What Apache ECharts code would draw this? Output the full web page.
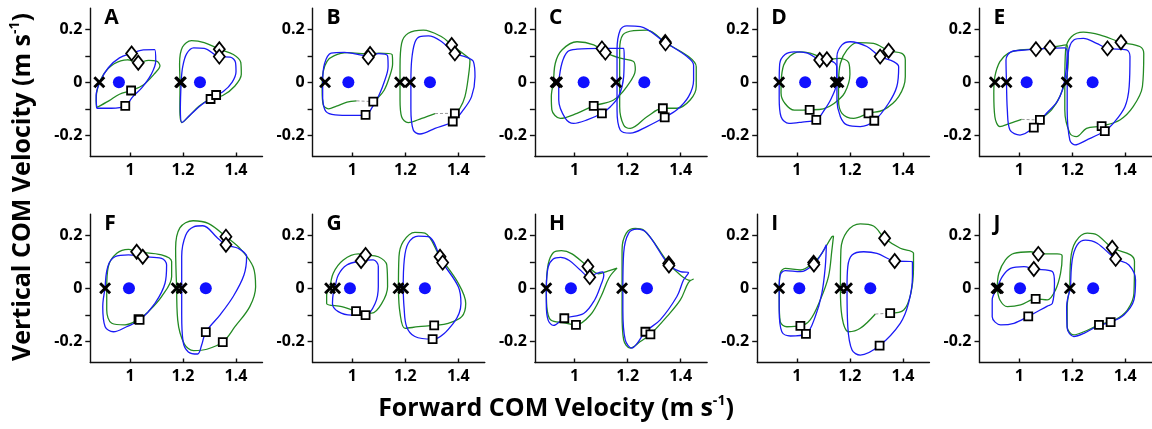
<!DOCTYPE html>
<html>
<head>
<meta charset="utf-8">
<script src="https://cdn.jsdelivr.net/npm/echarts@6/dist/echarts.min.js"></script>
<style>
html,body{margin:0;padding:0;background:#fff}
#chart{width:1152px;height:429px}
</style>
</head>
<body>
<div id="chart"></div>
<script>
// ---- axis ticks ----
const xTickValues = [1, 1.2, 1.4];
const yLabelValues = [-0.2, 0, 0.2];
const yTickValues = [-0.2, -0.1, 0, 0.1, 0.2];
const panelIds = ['A', 'B', 'C', 'D', 'E', 'F', 'G', 'H', 'I', 'J'];

// ---- A ----
const A_blueL = [[0.874,-0.098],[0.872,-0.05],[0.888,0.005],[0.918,0.055],[0.96,0.092],[1.006,0.109],[1.05,0.122],[1.093,0.123],[1.097,0.08],[1.08,0.03],[1.045,-0.02],[1.01,-0.055],[0.982,-0.089],[0.93,-0.098],[0.874,-0.098]];
const A_greenL = [[0.874,-0.095],[0.92,-0.07],[0.96,-0.045],[1.004,-0.031],[1.05,-0.01],[1.09,0.03],[1.113,0.062],[1.1,0.08],[1.07,0.083],[1.031,0.074],[0.99,0.085],[0.94,0.07],[0.9,0.03],[0.878,-0.02],[0.872,-0.07],[0.874,-0.095]];
const A_blueR = [[1.193,0],[1.199,0.06],[1.214,0.108],[1.24,0.13],[1.28,0.128],[1.337,0.097],[1.378,0.095],[1.398,0.075],[1.4,0.04],[1.385,0.0],[1.352,-0.035],[1.325,-0.048],[1.27,-0.085],[1.225,-0.125],[1.196,-0.152],[1.19,-0.1],[1.193,0]];
const A_greenR = [[1.189,0],[1.187,0.07],[1.198,0.133],[1.232,0.157],[1.28,0.15],[1.337,0.125],[1.39,0.105],[1.418,0.075],[1.42,0.03],[1.395,-0.015],[1.35,-0.05],[1.304,-0.063],[1.26,-0.09],[1.225,-0.125],[1.196,-0.152],[1.188,-0.1],[1.189,0]];
const A_cross = [[0.884,0],[1.189,0],[1.192,0]];
const A_dot = [[0.958,0],[1.264,0]];
const A_diamond = [[1.006,0.109],[1.031,0.074],[1.337,0.125],[1.337,0.097]];
const A_square = [[1.004,-0.031],[0.982,-0.089],[1.304,-0.063],[1.325,-0.048]];
const A_gap = [];

// ---- B ----
const B_blueL = [[0.888,-0.06],[0.888,0.0],[0.895,0.07],[0.92,0.11],[0.97,0.113],[1.06,0.1],[1.1,0.108],[1.133,0.1],[1.135,0.06],[1.12,0.0],[1.1,-0.05],[1.075,-0.095],[1.05,-0.123],[1.0,-0.125],[0.935,-0.123],[0.9,-0.11],[0.888,-0.06]];
const B_greenL = [[1.016,-0.07],[0.98,-0.075],[0.94,-0.09],[0.91,-0.1],[0.89,-0.085],[0.886,-0.03],[0.89,0.04],[0.905,0.08],[0.93,0.1],[0.98,0.112],[1.067,0.107],[1.1,0.11],[1.15,0.105],[1.152,0.07],[1.14,0.02],[1.12,-0.03],[1.095,-0.06],[1.079,-0.073]];
const B_blueR = [[1.221,0],[1.224,0.084],[1.236,0.15],[1.255,0.172],[1.287,0.175],[1.335,0.155],[1.387,0.109],[1.43,0.095],[1.457,0.078],[1.463,0.021],[1.45,-0.054],[1.419,-0.104],[1.379,-0.148],[1.312,-0.174],[1.255,-0.195],[1.23,-0.18],[1.221,-0.1],[1.221,0]];
const B_greenR = [[1.312,-0.118],[1.262,-0.136],[1.211,-0.152],[1.186,-0.13],[1.18,-0.067],[1.18,0.059],[1.186,0.147],[1.211,0.185],[1.268,0.197],[1.337,0.172],[1.375,0.141],[1.425,0.103],[1.444,0.084],[1.438,0.021],[1.425,-0.054],[1.406,-0.098],[1.387,-0.117]];
const B_cross = [[0.897,0],[1.18,0],[1.218,0]];
const B_dot = [[0.985,0],[1.293,0]];
const B_diamond = [[1.067,0.107],[1.06,0.094],[1.375,0.141],[1.387,0.109]];
const B_square = [[1.079,-0.073],[1.05,-0.123],[1.387,-0.117],[1.379,-0.148]];
const B_gap = [[[1.016,-0.07],[1.079,-0.073]], [[1.312,-0.118],[1.387,-0.117]]];

// ---- C ----
const C_blueL = [[0.94,0],[0.952,0.072],[0.974,0.116],[1.009,0.125],[1.103,0.128],[1.185,0.128],[1.187,0.097],[1.185,0.021],[1.166,-0.054],[1.135,-0.092],[1.103,-0.117],[1.047,-0.142],[0.996,-0.155],[0.965,-0.136],[0.94,-0.067],[0.94,0]];
const C_greenL = [[0.921,0],[0.927,0.072],[0.952,0.122],[1.009,0.153],[1.072,0.141],[1.116,0.112],[1.172,0.091],[1.223,0.078],[1.229,0.047],[1.197,-0.016],[1.147,-0.067],[1.072,-0.089],[1.009,-0.117],[0.946,-0.136],[0.914,-0.104],[0.912,-0.054],[0.921,0]];
const C_blueR = [[1.16,0],[1.16,0.122],[1.172,0.197],[1.197,0.213],[1.248,0.21],[1.342,0.15],[1.424,0.097],[1.449,0.065],[1.449,0.009],[1.43,-0.054],[1.386,-0.104],[1.34,-0.132],[1.273,-0.167],[1.21,-0.192],[1.172,-0.18],[1.16,-0.104],[1.16,0]];
const C_greenR = [[1.17,0],[1.17,0.122],[1.182,0.179],[1.223,0.195],[1.273,0.197],[1.342,0.15],[1.43,0.097],[1.459,0.059],[1.459,-0.016],[1.436,-0.067],[1.386,-0.098],[1.333,-0.098],[1.273,-0.13],[1.21,-0.174],[1.185,-0.161],[1.17,-0.092],[1.17,0]];
const C_cross = [[0.928,0],[0.934,0],[1.157,0]];
const C_dot = [[1.034,0],[1.263,0]];
const C_diamond = [[1.103,0.128],[1.116,0.112],[1.342,0.152],[1.343,0.147]];
const C_square = [[1.072,-0.089],[1.103,-0.117],[1.333,-0.098],[1.34,-0.132]];
const C_gap = [];

// ---- D ----
const D_blueL = [[0.933,0],[0.935,0.07],[0.955,0.105],[0.99,0.115],[1.04,0.11],[1.086,0.084],[1.13,0.08],[1.15,0.06],[1.15,0.0],[1.13,-0.06],[1.1,-0.11],[1.073,-0.142],[1.02,-0.15],[0.97,-0.155],[0.94,-0.13],[0.933,-0.06],[0.933,0]];
const D_greenL = [[0.94,0],[0.95,0.065],[0.975,0.1],[1.01,0.115],[1.05,0.11],[1.09,0.095],[1.113,0.087],[1.16,0.09],[1.195,0.075],[1.2,0.03],[1.18,-0.04],[1.14,-0.08],[1.1,-0.1],[1.048,-0.104],[0.99,-0.105],[0.955,-0.08],[0.94,-0.04],[0.94,0]];
const D_blueR = [[1.151,0],[1.151,0.097],[1.17,0.141],[1.201,0.153],[1.264,0.135],[1.314,0.097],[1.365,0.078],[1.384,0.059],[1.377,-0.016],[1.346,-0.079],[1.292,-0.145],[1.239,-0.167],[1.189,-0.161],[1.164,-0.13],[1.151,-0.067],[1.151,0]];
const D_greenR = [[1.157,0],[1.164,0.072],[1.189,0.122],[1.226,0.15],[1.289,0.147],[1.346,0.119],[1.396,0.109],[1.409,0.084],[1.409,0.021],[1.384,-0.054],[1.327,-0.104],[1.27,-0.117],[1.214,-0.136],[1.17,-0.117],[1.157,-0.067],[1.157,0]];
const D_cross = [[0.933,0],[1.146,0],[1.157,0]];
const D_dot = [[1.031,0],[1.245,0]];
const D_diamond = [[1.086,0.084],[1.113,0.087],[1.314,0.097],[1.346,0.119]];
const D_square = [[1.048,-0.104],[1.073,-0.142],[1.27,-0.117],[1.292,-0.145]];
const D_gap = [];

// ---- E ----
const E_blueL = [[0.952,0],[0.95,0.084],[0.971,0.116],[1.028,0.122],[1.063,0.125],[1.116,0.128],[1.172,0.13],[1.181,0.109],[1.172,0.009],[1.147,-0.067],[1.103,-0.117],[1.055,-0.171],[1.003,-0.199],[0.965,-0.18],[0.955,-0.104],[0.952,0]];
const E_greenL = [[1.009,-0.14],[0.965,-0.155],[0.927,-0.167],[0.908,-0.13],[0.904,-0.042],[0.908,0.021],[0.927,0.078],[0.958,0.109],[1.003,0.122],[1.063,0.125],[1.116,0.131],[1.179,0.141],[1.185,0.097],[1.179,0.021],[1.153,-0.054],[1.122,-0.104],[1.078,-0.14]];
const E_blueR = [[1.181,0],[1.185,0.109],[1.206,0.16],[1.242,0.166],[1.292,0.147],[1.333,0.128],[1.405,0.122],[1.418,0.097],[1.415,-0.016],[1.399,-0.092],[1.355,-0.155],[1.323,-0.184],[1.254,-0.218],[1.21,-0.236],[1.191,-0.218],[1.181,-0.104],[1.181,0]];
const E_greenR = [[1.172,0],[1.175,0.122],[1.197,0.172],[1.242,0.189],[1.304,0.179],[1.384,0.151],[1.455,0.135],[1.47,0.109],[1.465,-0.016],[1.43,-0.092],[1.38,-0.142],[1.311,-0.165],[1.254,-0.174],[1.216,-0.205],[1.191,-0.192],[1.172,-0.104],[1.172,0]];
const E_cross = [[0.908,0],[0.952,0],[1.179,0]];
const E_dot = [[1.028,0],[1.277,0]];
const E_diamond = [[1.063,0.125],[1.116,0.131],[1.333,0.128],[1.384,0.151]];
const E_square = [[1.078,-0.142],[1.055,-0.171],[1.311,-0.165],[1.323,-0.184]];
const E_gap = [[[1.009,-0.14],[1.078,-0.142]]];

// ---- F ----
const F_blueL = [[0.906,0],[0.916,0.082],[0.943,0.119],[0.994,0.126],[1.048,0.119],[1.119,0.113],[1.138,0.088],[1.132,0.019],[1.094,-0.057],[1.038,-0.119],[0.987,-0.145],[0.937,-0.164],[0.906,-0.145],[0.897,-0.069],[0.906,0]];
const F_greenL = [[0.912,0],[0.918,0.082],[0.95,0.132],[0.994,0.147],[1.025,0.138],[1.119,0.126],[1.157,0.101],[1.157,0.044],[1.119,-0.031],[1.069,-0.088],[1.034,-0.116],[0.981,-0.138],[0.931,-0.132],[0.912,-0.082],[0.912,0]];
const F_blueR = [[1.195,0],[1.195,0.12],[1.21,0.2],[1.24,0.232],[1.275,0.236],[1.33,0.19],[1.362,0.164],[1.41,0.15],[1.44,0.12],[1.43,0.05],[1.39,-0.03],[1.34,-0.1],[1.286,-0.165],[1.27,-0.215],[1.255,-0.248],[1.22,-0.24],[1.2,-0.2],[1.195,-0.1],[1.195,0]];
const F_greenR = [[1.176,0],[1.172,0.15],[1.188,0.228],[1.238,0.255],[1.295,0.245],[1.362,0.195],[1.42,0.145],[1.465,0.08],[1.474,0.006],[1.452,-0.069],[1.396,-0.145],[1.35,-0.203],[1.29,-0.23],[1.24,-0.235],[1.205,-0.21],[1.18,-0.12],[1.176,0]];
const F_cross = [[0.906,0],[1.176,0],[1.195,0]];
const F_dot = [[0.996,0],[1.286,0]];
const F_diamond = [[1.025,0.138],[1.048,0.119],[1.362,0.195],[1.362,0.164]];
const F_square = [[1.032,-0.116],[1.036,-0.119],[1.286,-0.165],[1.35,-0.203]];
const F_gap = [];

// ---- G ----
const G_blueL = [[0.935,0],[0.947,0.05],[0.979,0.088],[1.033,0.103],[1.079,0.107],[1.098,0.082],[1.098,0.006],[1.086,-0.057],[1.05,-0.101],[0.997,-0.101],[0.947,-0.088],[0.925,-0.057],[0.928,-0.019],[0.935,0]];
const G_greenL = [[0.916,0],[0.928,0.057],[0.966,0.107],[1.023,0.13],[1.05,0.126],[1.098,0.119],[1.13,0.088],[1.133,0.006],[1.111,-0.057],[1.073,-0.094],[1.014,-0.086],[0.96,-0.069],[0.903,-0.057],[0.903,-0.025],[0.916,0]];
const G_blueR = [[1.192,0],[1.196,0.107],[1.211,0.17],[1.249,0.197],[1.287,0.195],[1.341,0.097],[1.4,0.006],[1.41,-0.057],[1.381,-0.132],[1.303,-0.192],[1.236,-0.182],[1.205,-0.145],[1.195,-0.069],[1.192,0]];
const G_greenR = [[1.174,0],[1.176,0.119],[1.192,0.176],[1.236,0.211],[1.274,0.208],[1.331,0.119],[1.4,0.019],[1.428,-0.057],[1.413,-0.107],[1.362,-0.132],[1.309,-0.14],[1.249,-0.145],[1.199,-0.151],[1.18,-0.094],[1.174,0]];
const G_cross = [[0.916,0],[0.935,0],[1.174,0],[1.192,0]];
const G_dot = [[0.991,0],[1.274,0]];
const G_diamond = [[1.033,0.103],[1.05,0.126],[1.331,0.119],[1.341,0.097]];
const G_square = [[1.014,-0.086],[1.05,-0.101],[1.309,-0.14],[1.303,-0.192]];
const G_gap = [];

// ---- H ----
const H_blueL = [[0.893,0],[0.9,0.08],[0.918,0.11],[0.947,0.117],[0.98,0.105],[1.02,0.07],[1.057,0.042],[1.08,0.055],[1.105,0.062],[1.11,0.048],[1.1,0.015],[1.075,-0.045],[1.034,-0.095],[0.961,-0.113],[0.92,-0.14],[0.9,-0.12],[0.893,-0.06],[0.893,0]];
const H_greenL = [[0.893,0],[0.9,0.09],[0.92,0.135],[0.95,0.142],[0.99,0.13],[1.05,0.082],[1.09,0.055],[1.125,0.065],[1.16,0.076],[1.13,0.04],[1.1,-0.03],[1.06,-0.1],[1.005,-0.138],[0.96,-0.13],[0.91,-0.12],[0.895,-0.07],[0.893,0]];
const H_blueR = [[1.182,0],[1.185,0.132],[1.204,0.208],[1.236,0.223],[1.273,0.208],[1.356,0.088],[1.399,0.063],[1.43,0.059],[1.411,0.031],[1.386,-0.031],[1.323,-0.119],[1.267,-0.164],[1.236,-0.208],[1.216,-0.226],[1.191,-0.195],[1.182,-0.082],[1.182,0]];
const H_greenR = [[1.179,0],[1.179,0.145],[1.195,0.208],[1.229,0.226],[1.26,0.22],[1.355,0.094],[1.399,0.05],[1.436,0.03],[1.449,0.035],[1.43,0.022],[1.399,-0.044],[1.348,-0.107],[1.286,-0.174],[1.248,-0.201],[1.21,-0.226],[1.185,-0.195],[1.179,-0.094],[1.179,0]];
const H_cross = [[0.893,0],[1.179,0]];
const H_dot = [[0.986,0],[1.273,0]];
const H_diamond = [[1.05,0.082],[1.057,0.042],[1.355,0.094],[1.356,0.086]];
const H_square = [[0.961,-0.113],[1.005,-0.138],[1.267,-0.164],[1.286,-0.174]];
const H_gap = [];

// ---- I ----
const I_blueL = [[0.933,0],[0.937,0.05],[0.956,0.067],[1.013,0.063],[1.063,0.09],[1.094,0.132],[1.111,0.164],[1.107,0.082],[1.094,-0.019],[1.069,-0.107],[1.034,-0.172],[0.975,-0.18],[0.943,-0.164],[0.933,-0.082],[0.933,0]];
const I_greenL = [[0.933,0],[0.937,0.057],[0.956,0.075],[1.013,0.069],[1.063,0.097],[1.094,0.132],[1.132,0.195],[1.138,0.197],[1.132,0.145],[1.119,0.044],[1.088,-0.044],[1.05,-0.119],[1.013,-0.142],[0.962,-0.145],[0.937,-0.126],[0.933,-0.044],[0.933,0]];
const I_blueR = [[1.189,0],[1.192,0.082],[1.208,0.126],[1.252,0.138],[1.302,0.132],[1.369,0.103],[1.436,0.1],[1.436,0.044],[1.421,-0.057],[1.39,-0.132],[1.312,-0.216],[1.239,-0.252],[1.208,-0.233],[1.192,-0.145],[1.189,0]];
const I_greenR = [[1.352,-0.094],[1.403,-0.082],[1.43,-0.019],[1.44,0.082],[1.44,0.132],[1.39,0.151],[1.331,0.189],[1.289,0.235],[1.239,0.243],[1.189,0.214],[1.166,0.145],[1.164,0],[1.17,-0.107],[1.195,-0.164],[1.239,-0.151],[1.296,-0.097]];
const I_cross = [[0.933,0],[1.164,0],[1.189,0]];
const I_dot = [[1.009,0],[1.277,0]];
const I_diamond = [[1.063,0.097],[1.064,0.09],[1.331,0.189],[1.369,0.103]];
const I_square = [[1.013,-0.142],[1.034,-0.172],[1.352,-0.094],[1.312,-0.216]];
const I_gap = [[[1.296,-0.097],[1.352,-0.094]]];

// ---- J ----
const J_blueL = [[0.917,0],[0.936,0.044],[0.967,0.075],[1.018,0.082],[1.055,0.073],[1.125,0.063],[1.133,0.019],[1.125,-0.057],[1.106,-0.067],[1.034,-0.106],[0.98,-0.132],[0.93,-0.138],[0.898,-0.107],[0.898,-0.044],[0.917,0]];
const J_greenL = [[0.917,0],[0.923,0.057],[0.948,0.107],[0.98,0.132],[1.043,0.138],[1.072,0.13],[1.143,0.13],[1.162,0.122],[1.156,0.057],[1.137,-0.006],[1.106,-0.044],[1.062,-0.04],[1.005,-0.063],[0.955,-0.069],[0.927,-0.044],[0.917,0]];
const J_blueR = [[1.194,0],[1.2,0.107],[1.219,0.164],[1.25,0.182],[1.294,0.17],[1.364,0.111],[1.414,0.088],[1.439,0.031],[1.433,-0.044],[1.395,-0.101],[1.345,-0.128],[1.301,-0.14],[1.244,-0.17],[1.206,-0.182],[1.181,-0.151],[1.179,-0.069],[1.194,0]];
const J_greenR = [[1.191,0],[1.194,0.107],[1.213,0.176],[1.257,0.208],[1.294,0.201],[1.351,0.153],[1.42,0.126],[1.435,0.101],[1.433,-0.019],[1.408,-0.082],[1.36,-0.12],[1.301,-0.138],[1.244,-0.164],[1.206,-0.176],[1.181,-0.145],[1.181,-0.069],[1.191,0]];
const J_cross = [[0.914,0],[0.92,0],[1.191,0]];
const J_dot = [[1.003,0],[1.279,0]];
const J_diamond = [[1.072,0.13],[1.055,0.073],[1.351,0.153],[1.364,0.111]];
const J_square = [[1.062,-0.04],[1.034,-0.106],[1.301,-0.138],[1.345,-0.128]];
const J_gap = [];

const panels = [
  {blue:[A_blueL,A_blueR], green:[A_greenL,A_greenR], cross:A_cross, dot:A_dot, diamond:A_diamond, square:A_square, gap:A_gap},
  {blue:[B_blueL,B_blueR], green:[B_greenL,B_greenR], cross:B_cross, dot:B_dot, diamond:B_diamond, square:B_square, gap:B_gap},
  {blue:[C_blueL,C_blueR], green:[C_greenL,C_greenR], cross:C_cross, dot:C_dot, diamond:C_diamond, square:C_square, gap:C_gap},
  {blue:[D_blueL,D_blueR], green:[D_greenL,D_greenR], cross:D_cross, dot:D_dot, diamond:D_diamond, square:D_square, gap:D_gap},
  {blue:[E_blueL,E_blueR], green:[E_greenL,E_greenR], cross:E_cross, dot:E_dot, diamond:E_diamond, square:E_square, gap:E_gap},
  {blue:[F_blueL,F_blueR], green:[F_greenL,F_greenR], cross:F_cross, dot:F_dot, diamond:F_diamond, square:F_square, gap:F_gap},
  {blue:[G_blueL,G_blueR], green:[G_greenL,G_greenR], cross:G_cross, dot:G_dot, diamond:G_diamond, square:G_square, gap:G_gap},
  {blue:[H_blueL,H_blueR], green:[H_greenL,H_greenR], cross:H_cross, dot:H_dot, diamond:H_diamond, square:H_square, gap:H_gap},
  {blue:[I_blueL,I_blueR], green:[I_greenL,I_greenR], cross:I_cross, dot:I_dot, diamond:I_diamond, square:I_square, gap:I_gap},
  {blue:[J_blueL,J_blueR], green:[J_greenL,J_greenR], cross:J_cross, dot:J_dot, diamond:J_diamond, square:J_square, gap:J_gap}
];

// ---- layout & style ----
const GRID_LEFT0 = 90.3, GRID_STEP = 222.3, GRID_W = 172.2, GRID_H = 148.4;
const ROW_TOP = [8.1, 214.1];
const BLUE = '#1a1af5', GREEN = '#238a23', DOT = '#1010ff';
const FONT = '"Open Sans", Lato, sans-serif';
const CROSS_PATH = 'path://M0,1.7L1.7,0L10,8.3L8.3,10Z M8.3,0L10,1.7L1.7,10L0,8.3Z';

const grids = [], xAxes = [], yAxes = [], series = [], graphics = [];

panels.forEach((p, i) => {
  const c = i % 5, r = Math.floor(i / 5);
  const left = GRID_LEFT0 + c * GRID_STEP, top = ROW_TOP[r];
  grids.push({left: left, top: top, width: GRID_W, height: GRID_H});
  xAxes.push({
    gridIndex: i, type: 'value', min: 0.85, max: 1.5,
    axisLine: {show: true, onZero: false, lineStyle: {color: '#111', width: 1.4}},
    axisTick: {show: true, inside: true, length: 4, customValues: xTickValues, lineStyle: {color: '#111', width: 1.4}},
    axisLabel: {customValues: xTickValues, fontSize: 16, fontWeight: 'bold', fontFamily: FONT, color: '#000', margin: 6},
    splitLine: {show: false}
  });
  yAxes.push({
    gridIndex: i, type: 'value', min: -0.28, max: 0.28,
    axisLine: {show: true, onZero: false, lineStyle: {color: '#111', width: 1.4}},
    axisTick: {show: true, inside: false, length: 5, customValues: yTickValues, lineStyle: {color: '#111', width: 1.4}},
    axisLabel: {customValues: yLabelValues, fontSize: 16, fontWeight: 'bold', fontFamily: FONT, color: '#000', margin: 8},
    splitLine: {show: false}
  });
  const base = {xAxisIndex: i, yAxisIndex: i, silent: true, animation: false};
  const curve = (data, color) => Object.assign({
    type: 'line', data: data, smooth: 0.35, showSymbol: false, symbol: 'none',
    lineStyle: {color: color, width: 1.3}, z: 2
  }, base);
  p.green.forEach(d => series.push(curve(d, GREEN)));
  p.blue.forEach(d => series.push(curve(d, BLUE)));
  p.gap.forEach(seg => series.push(Object.assign({
    type: 'line', data: seg, showSymbol: false, symbol: 'none',
    lineStyle: {color: '#999', width: 1, type: [3, 2]}, z: 2
  }, base)));
  series.push(Object.assign({
    type: 'scatter', data: p.dot, symbol: 'circle', symbolSize: 12,
    itemStyle: {color: DOT, opacity: 1}, z: 3
  }, base));
  series.push(Object.assign({
    type: 'scatter', data: p.cross, symbol: CROSS_PATH, symbolSize: 12,
    itemStyle: {color: '#000', opacity: 1}, z: 4
  }, base));
  series.push(Object.assign({
    type: 'scatter', data: p.diamond, symbol: 'diamond', symbolSize: [11, 14],
    itemStyle: {color: '#fff', borderColor: '#000', borderWidth: 1.8, opacity: 1}, z: 4
  }, base));
  series.push(Object.assign({
    type: 'scatter', data: p.square, symbol: 'rect', symbolSize: 8,
    itemStyle: {color: '#fff', borderColor: '#000', borderWidth: 1.8, opacity: 1}, z: 4
  }, base));
  graphics.push({
    type: 'text', x: left + 14, y: top - 1,
    style: {text: panelIds[i], font: 'bold 21px ' + FONT, fill: '#000', textAlign: 'left', textVerticalAlign: 'top'}
  });
});

// axis titles
const titleRich = {
  n: {fontSize: 25, fontWeight: 'bold', fontFamily: FONT, fill: '#000', lineHeight: 30},
  s: {fontSize: 14, fontWeight: 'bold', fontFamily: FONT, fill: '#000', lineHeight: 30, verticalAlign: 'top', padding: [0, 0, 10, 0]}
};
graphics.push({
  type: 'text', x: 556, y: 409,
  style: {text: '{n|Forward COM Velocity (m s}{s|-1}{n|)}', align: 'center', verticalAlign: 'middle', rich: titleRich}
});
graphics.push({
  type: 'text', x: 23, y: 187, rotation: Math.PI / 2,
  style: {text: '{n|Vertical COM Velocity (m s}{s|-1}{n|)}', align: 'center', verticalAlign: 'middle', rich: titleRich}
});

const chart = echarts.init(document.getElementById('chart'), null, {renderer: 'canvas'});
chart.setOption({
  animation: false,
  backgroundColor: '#fff',
  grid: grids,
  xAxis: xAxes,
  yAxis: yAxes,
  series: series,
  graphic: graphics
});
</script>
</body>
</html>
